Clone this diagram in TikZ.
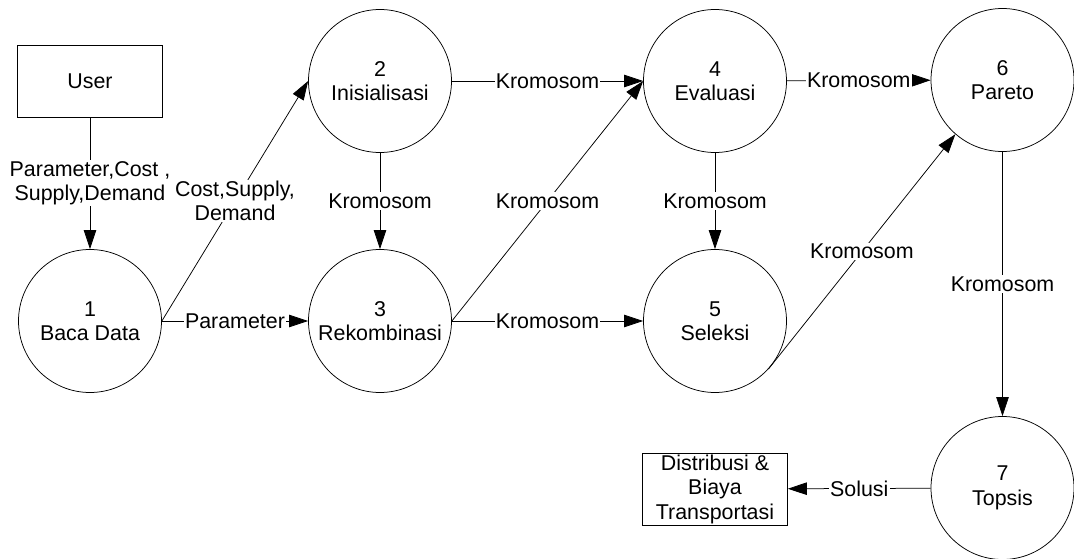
\documentclass[tikz,border=0pt]{standalone}
\usepackage{fontspec}
\setmainfont{Liberation Sans}
\usetikzlibrary{arrows.meta}
\begin{document}
\begin{tikzpicture}[x=1pt,y=-1pt,
  every node/.style={font=\fontsize{21.4}{24.5}\selectfont},
  proc/.style={draw, circle, minimum size=143pt, inner sep=0pt, align=center, line width=0.75pt},
  ent/.style={draw, rectangle, minimum width=145pt, minimum height=72pt, inner sep=0pt, align=center, line width=0.75pt},
  flow/.style={line width=0.75pt, -{Triangle[length=19pt,width=12.5pt]}},
  lbl/.style={fill=white, inner sep=1.2pt, align=center}]
\useasboundingbox (0,0) rectangle (1074,559);
\node[ent] (user) at (90,81) {User};
\node[proc] (p1) at (90,321) {1\\Baca Data};
\node[proc] (p2) at (380,81) {2\\Inisialisasi};
\node[proc] (p3) at (380,321) {3\\Rekombinasi};
\node[proc] (p4) at (715,81) {4\\Evaluasi};
\node[proc] (p5) at (715,321) {5\\Seleksi};
\node[proc] (p6) at (1002.5,80) {6\\Pareto};
\node[proc] (p7) at (1002.5,488) {7\\Topsis};
\node[ent] (dist) at (715,489) {Distribusi \&\\Biaya\\Transportasi};

\draw[flow] (user) -- node[lbl] {Parameter,Cost ,\\Supply,Demand} (p1);
\draw[flow] (p1.east) -- node[lbl] {Cost,Supply,\\Demand} (p2.west);
\draw[flow] (p1.east) -- node[lbl] {Parameter} (p3.west);
\draw[flow] (p2) -- node[lbl] {Kromosom} (p3);
\draw[flow] (p2) -- node[lbl] {Kromosom} (p4);
\draw[flow] (p3.east) -- node[lbl] {Kromosom} (p4.west);
\draw[flow] (p3) -- node[lbl] {Kromosom} (p5);
\draw[flow] (p4) -- node[lbl] {Kromosom} (p5);
\draw[flow] (p4) -- node[lbl] {Kromosom} (p6);
\draw[flow] (p5.-42) -- node[lbl] {Kromosom} (p6.229);
\draw[flow] (p6) -- node[lbl] {Kromosom} (p7);
\draw[flow] (p7) -- node[lbl] {Solusi} (dist);
\end{tikzpicture}
\end{document}
